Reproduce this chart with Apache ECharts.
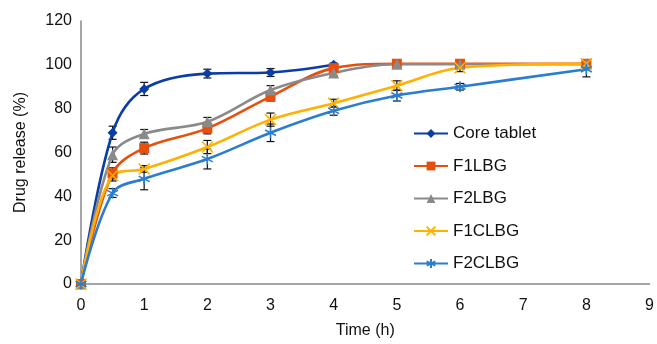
<!DOCTYPE html>
<html>
<head>
    <meta charset="utf-8">
    <title>Drug release</title>
    <script src="https://cdn.jsdelivr.net/npm/echarts@6/dist/echarts.min.js"></script>
    <style>
        html, body { margin: 0; padding: 0; background: #fff; }
    </style>
</head>
<body>
    <div id="main" style="width: 657px;height:344px;"></div>
    <script type="text/javascript">
        // time points (h)
        var times = [0, 0.5, 1, 2, 3, 4, 5, 6, 8];
        var names = ['Core tablet', 'F1LBG', 'F2LBG', 'F1CLBG', 'F2CLBG'];

        // release (%) per formulation
        var coreTablet = [0, 69, 89, 96, 96.5, 100];
        var f1lbg = [0, 50.5, 62, 71, 85.5, 98.5, 100.5, 100.5, 100.5];
        var f2lbg = [0, 59, 68.5, 74, 88.5, 96.3, 100.3, 100.3, 100.3];
        var f1clbg = [0, 49.5, 52.5, 62.5, 75, 82.5, 90.5, 98.7, 100.5];
        var f2clbg = [0, 41.5, 48, 57, 69, 79, 86, 90, 98];

        // error bars (+/-)
        var coreErr = [0, 3, 3, 2, 1.8, 0.8];
        var f1lbgErr = [0, 2.5, 2.7, 2.5, 2, 1.2, 1, 1, 1];
        var f2lbgErr = [0, 3.5, 2, 2, 2, 1.2, 0.8, 0.8, 0.8];
        var f1clbgErr = [0, 2.5, 1.5, 3, 3, 1.8, 2.2, 1.8, 0.8];
        var f2clbgErr = [0, 2, 5, 4.5, 4, 2, 2.5, 1.5, 3.5];

        var values = [coreTablet, f1lbg, f2lbg, f1clbg, f2clbg];
        var errs = [coreErr, f1lbgErr, f2lbgErr, f1clbgErr, f2clbgErr];
        var colors = ['#0B3DA6', '#E5500E', '#8A8A8A', '#FFB000', '#2A7DD1'];
        var symbols = [
            'diamond',
            'rect',
            'triangle',
            'path://M0,0L10,10M10,0L0,10',
            'path://M5,0L5,10M0,2.5L10,7.5M0,7.5L10,2.5'
        ];
        var symbolSizes = [10, 10, 11, 11, 11];

        var myChart = echarts.init(document.getElementById('main'));

        var series = [];
        // error bars first so lines are drawn on top
        values.forEach(function (vals, i) {
            var d = vals.map(function (v, k) {
                return [times[k], v - errs[i][k], v + errs[i][k]];
            });
            series.push({
                type: 'custom',
                name: names[i] + ' err',
                silent: true,
                z: 1,
                data: d,
                renderItem: function (params, api) {
                    var lo = api.coord([api.value(0), api.value(1)]);
                    var hi = api.coord([api.value(0), api.value(2)]);
                    var w = 4;
                    var st = { stroke: '#111', lineWidth: 1.2 };
                    return {
                        type: 'group',
                        children: [
                            { type: 'line', shape: { x1: lo[0], y1: lo[1], x2: hi[0], y2: hi[1] }, style: st },
                            { type: 'line', shape: { x1: lo[0] - w, y1: lo[1], x2: lo[0] + w, y2: lo[1] }, style: st },
                            { type: 'line', shape: { x1: hi[0] - w, y1: hi[1], x2: hi[0] + w, y2: hi[1] }, style: st }
                        ]
                    };
                }
            });
        });

        values.forEach(function (vals, i) {
            var pathSym = i >= 3;
            series.push({
                type: 'line',
                name: names[i],
                smooth: 0.35,
                z: 3,
                data: vals.map(function (v, k) { return [times[k], v]; }),
                symbol: symbols[i],
                symbolSize: symbolSizes[i],
                showAllSymbol: true,
                lineStyle: { color: colors[i], width: 2.6 },
                itemStyle: {
                    color: colors[i],
                    borderColor: colors[i],
                    borderWidth: pathSym ? 1.5 : 0
                }
            });
        });

        var option = {
            animation: false,
            textStyle: { fontFamily: 'Liberation Sans, Arial, sans-serif' },
            grid: { left: 81, right: 5, top: 21, bottom: 58 },
            legend: {
                data: names,
                orient: 'vertical',
                left: 408,
                top: 120,
                itemWidth: 34,
                itemHeight: 11,
                itemGap: 15.5,
                textStyle: { fontSize: 17, color: '#111' }
            },
            xAxis: {
                type: 'value',
                min: 0,
                max: 9,
                interval: 1,
                name: 'Time (h)',
                nameLocation: 'middle',
                nameGap: 39,
                nameTextStyle: { fontSize: 16, color: '#111' },
                axisLine: { lineStyle: { color: '#888', width: 1.5 } },
                axisTick: { show: false },
                splitLine: { show: false },
                axisLabel: { fontSize: 16, color: '#111', margin: 14 }
            },
            yAxis: {
                type: 'value',
                min: 0,
                max: 120,
                interval: 20,
                name: 'Drug release (%)',
                nameLocation: 'middle',
                nameGap: 52,
                nameTextStyle: { fontSize: 16, color: '#111' },
                axisLine: { show: true, lineStyle: { color: '#888', width: 1.5 } },
                axisTick: { show: false },
                splitLine: { show: false },
                axisLabel: { fontSize: 16, color: '#111', margin: 9 }
            },
            series: series
        };

        myChart.setOption(option);
    </script>
</body>
</html>
